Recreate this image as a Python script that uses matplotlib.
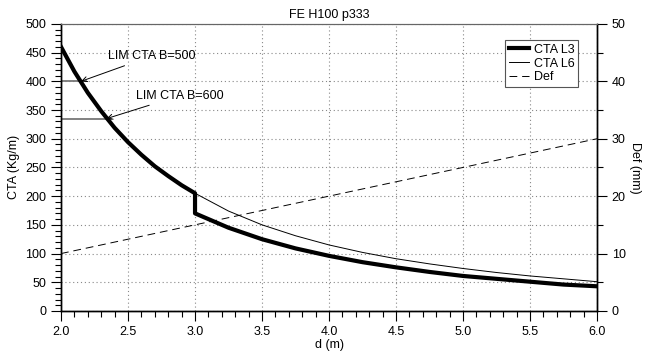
import matplotlib
matplotlib.use("Agg")
import matplotlib.pyplot as plt
from matplotlib.ticker import MultipleLocator

plt.rcParams['font.family'] = ['Liberation Sans', 'DejaVu Sans']

# values
d_l3 = [2.0, 2.1, 2.2, 2.3, 2.4, 2.5, 2.6, 2.7, 2.8, 2.9, 3.0,
        3.0, 3.25, 3.5, 3.75, 4.0, 4.25, 4.5, 4.75, 5.0, 5.25, 5.5, 5.75, 6.0]
cta_l3 = [460, 417, 380, 348, 319, 294, 272, 252, 235, 219, 205,
          170, 145, 125, 109, 96, 85, 76, 68, 61, 56, 51, 46, 43]

d_l6 = [2.0, 2.1, 2.2, 2.3, 2.4, 2.5, 2.6, 2.7, 2.8, 2.9, 3.0,
        3.25, 3.5, 3.75, 4.0, 4.25, 4.5, 4.75, 5.0, 5.25, 5.5, 5.75, 6.0]
cta_l6 = [460, 417, 380, 348, 319, 294, 272, 252, 235, 219, 205,
          174, 150, 131, 115, 102, 91, 82, 74, 67, 61, 56, 51]

d_def = [2.0, 6.0]
deflex = [10, 30]

lim_labels = ["LIM CTA B=500", "LIM CTA B=600"]
lim_values = [400, 335]
lim_d = [2.15, 2.34]

fig = plt.figure(figsize=(6.49, 3.51), dpi=100)
ax = fig.add_axes([0.094, 0.114, 0.826, 0.818])
ax2 = ax.twinx()

l3, = ax.plot(d_l3, cta_l3, color='black', lw=3.0, label='CTA L3', zorder=4)
l6, = ax.plot(d_l6, cta_l6, color='black', lw=0.7, label='CTA L6', zorder=3)
ld, = ax2.plot(d_def, deflex, color='black', lw=0.7, ls=(0, (8, 5)), label='Def')

# limit lines + annotations
text_pos = [(2.35, 444), (2.56, 375)]
line_end = [2.19, 2.37]
for lab, val, dx, tp, le in zip(lim_labels, lim_values, lim_d, text_pos, line_end):
    ax.plot([2.0, le], [val, val], color='#777777', lw=1.3, zorder=2)
    ax.annotate(lab, xy=(dx, val), xytext=tp, fontsize=9, va='center', ha='left',
                arrowprops=dict(arrowstyle='->', color='black', lw=0.7,
                                shrinkA=2, shrinkB=0))

ax.set_xlim(2.0, 6.0)
ax.set_ylim(0, 500)
ax2.set_ylim(0, 50)

ax.xaxis.set_major_locator(MultipleLocator(0.5))
ax.xaxis.set_minor_locator(MultipleLocator(0.1))
ax.yaxis.set_major_locator(MultipleLocator(50))
ax.yaxis.set_minor_locator(MultipleLocator(10))
ax2.yaxis.set_major_locator(MultipleLocator(10))
ax2.yaxis.set_minor_locator(MultipleLocator(5))
ax.xaxis.set_major_formatter(plt.FormatStrFormatter('%.1f'))

ax.tick_params(which='major', direction='out', length=7, width=0.8, labelsize=9)
ax.tick_params(which='minor', direction='out', length=4, width=0.8)
ax2.tick_params(which='major', direction='out', length=7, width=0.8, labelsize=9)
ax2.tick_params(which='minor', direction='out', length=4, width=0.8)

ax.grid(True, which='major', color='#888888', ls=(0, (1, 2.5)), lw=0.8)

for a in (ax, ax2):
    a.spines['left'].set_color('black')
    a.spines['right'].set_color('black')
    a.spines['bottom'].set_color('black')
    a.spines['top'].set_color('#666666')
    for s in ('left', 'right', 'bottom'):
        a.spines[s].set_linewidth(1.0)

ax.set_xlabel('d (m)', fontsize=9, labelpad=1)
ax.set_ylabel('CTA (Kg/m)', fontsize=9)
ax2.set_ylabel('Def (mm)', fontsize=9, rotation=270, labelpad=11)
ax.set_title('FE H100 p333', fontsize=9, pad=4)

leg = ax2.legend(handles=[l3, l6, ld], loc='upper right', bbox_to_anchor=(0.965, 0.944),
                 borderaxespad=0, fontsize=9, handlelength=1.6, handletextpad=0.4,
                 labelspacing=0.15, borderpad=0.3, fancybox=False, framealpha=1)
leg.get_frame().set_edgecolor('#555555')
leg.get_frame().set_linewidth(0.8)

fig.savefig('out.png', dpi=100)
